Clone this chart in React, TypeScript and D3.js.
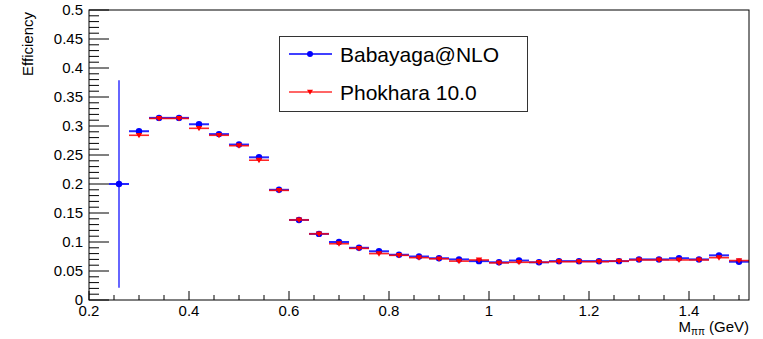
import React from "react";
import * as d3 from "d3";

const binCenters = [0.26, 0.30, 0.34, 0.38, 0.42, 0.46, 0.50, 0.54, 0.58, 0.62, 0.66, 0.70, 0.74, 0.78, 0.82, 0.86,
  0.90, 0.94, 0.98, 1.02, 1.06, 1.10, 1.14, 1.18, 1.22, 1.26, 1.30, 1.34, 1.38, 1.42, 1.46, 1.50];
const binHalfWidth = 0.02;

const babayaga = [0.200, 0.291, 0.314, 0.314, 0.303, 0.286, 0.268, 0.246, 0.190, 0.138, 0.114, 0.100, 0.090, 0.084, 0.078, 0.075,
  0.072, 0.070, 0.067, 0.065, 0.068, 0.065, 0.067, 0.067, 0.067, 0.067, 0.070, 0.070, 0.072, 0.070, 0.077, 0.066];
const babayagaErr = [0.179, 0.002, 0.002, 0.002, 0.002, 0.002, 0.002, 0.002, 0.002, 0.002, 0.002, 0.002, 0.002, 0.002, 0.002, 0.002,
  0.002, 0.002, 0.002, 0.002, 0.002, 0.002, 0.002, 0.002, 0.002, 0.002, 0.002, 0.002, 0.002, 0.002, 0.002, 0.002];

// Phokhara has no entry in the first bin
const phokhara: (number | null)[] = [null, 0.284, 0.313, 0.313, 0.296, 0.284, 0.266, 0.241, 0.189, 0.138, 0.114, 0.097, 0.089, 0.080, 0.077, 0.073,
  0.071, 0.067, 0.069, 0.064, 0.065, 0.065, 0.066, 0.066, 0.066, 0.067, 0.069, 0.069, 0.069, 0.069, 0.073, 0.068];
const phokharaErr = [0, 0.002, 0.002, 0.002, 0.002, 0.002, 0.002, 0.002, 0.002, 0.002, 0.002, 0.002, 0.002, 0.002, 0.002, 0.002,
  0.002, 0.002, 0.002, 0.002, 0.002, 0.002, 0.002, 0.002, 0.002, 0.002, 0.002, 0.002, 0.002, 0.002, 0.002, 0.002];

const xMajorTicks = [0.2, 0.4, 0.6, 0.8, 1.0, 1.2, 1.4];
const xTickLabels = ["0.2", "0.4", "0.6", "0.8", "1", "1.2", "1.4"];
const yMajorTicks = [0, 0.05, 0.1, 0.15, 0.2, 0.25, 0.3, 0.35, 0.4, 0.45, 0.5];
const yTickLabels = ["0", "0.05", "0.1", "0.15", "0.2", "0.25", "0.3", "0.35", "0.4", "0.45", "0.5"];
const seriesNames = ["Babayaga@NLO", "Phokhara 10.0"];

const W = 763, H = 339;
const L = 89, R = 749, T = 10, B = 300;
const FONT = "'Liberation Sans', Arial, Helvetica, sans-serif";
const BLUE = "#0000ff";
const RED = "#ff0000";

export default function App() {
  const x = d3.scaleLinear().domain([0.2, 1.52]).range([L, R]);
  const y = d3.scaleLinear().domain([0, 0.5]).range([B, T]);

  const xMinor = d3.range(0, 27).map((i) => 0.2 + i * 0.05).filter((v) => v <= 1.52 + 1e-9);
  const yMinor = d3.range(0, 51).map((i) => i * 0.01);

  const tri = (cx: number, cy: number, s: number) =>
    `M${cx - s},${cy - s * 0.75} L${cx + s},${cy - s * 0.75} L${cx},${cy + s * 0.95} Z`;

  return (
    <svg width={W} height={H} style={{ position: "absolute", left: 0, top: 0, background: "#fff" }} fontFamily={FONT}>
      <rect x={0} y={0} width={W} height={H} fill="#fff" />

      {/* Y ticks */}
      {yMinor.map((v, i) => (
        <line key={"ym" + i} x1={L} x2={L + (i % 5 === 0 ? 20 : 10)} y1={y(v)} y2={y(v)} stroke="#000" strokeWidth={1} />
      ))}
      {/* X ticks */}
      {xMinor.map((v, i) => (
        <line key={"xm" + i} x1={x(v)} x2={x(v)} y1={B} y2={B - (i % 4 === 0 ? 9 : 5)} stroke="#000" strokeWidth={1} />
      ))}

      {/* labels */}
      {yMajorTicks.map((v, i) => (
        <text key={"yl" + i} x={83} y={y(v)} dy="0.36em" textAnchor="end" fontSize={15} fill="#000">
          {yTickLabels[i]}
        </text>
      ))}
      {xMajorTicks.map((v, i) => (
        <text key={"xl" + i} x={x(v)} y={316} textAnchor="middle" fontSize={15} fill="#000">
          {xTickLabels[i]}
        </text>
      ))}

      <text transform={`translate(33,12) rotate(-90)`} textAnchor="end" fontSize={15} fill="#000">
        Efficiency
      </text>
      <text x={R} y={332} textAnchor="end" fontSize={15} fill="#000">
        M<tspan fontSize={10} dy={3}>ππ</tspan>
        <tspan dy={-3}> (GeV)</tspan>
      </text>

      {/* Babayaga series */}
      <g>
        {binCenters.map((c, i) => {
          const v = babayaga[i];
          return (
            <g key={"b" + i}>
              <line x1={x(c - binHalfWidth)} x2={x(c + binHalfWidth)} y1={y(v)} y2={y(v)} stroke={BLUE} strokeWidth={2} strokeOpacity={0.85} />
              <line x1={x(c)} x2={x(c)} y1={y(v - babayagaErr[i])} y2={y(v + babayagaErr[i])} stroke={BLUE} strokeWidth={1.5} strokeOpacity={0.8} />
              <circle cx={x(c)} cy={y(v)} r={3.2} fill={BLUE} />
            </g>
          );
        })}
      </g>
      {/* Phokhara series */}
      <g>
        {binCenters.map((c, i) => {
          const v = phokhara[i];
          if (v === null) return null;
          return (
            <g key={"p" + i}>
              <line x1={x(c - binHalfWidth)} x2={x(c + binHalfWidth)} y1={y(v)} y2={y(v)} stroke={RED} strokeWidth={1.6} strokeOpacity={0.85} />
              <line x1={x(c)} x2={x(c)} y1={y(v - phokharaErr[i])} y2={y(v + phokharaErr[i])} stroke={RED} strokeWidth={1.2} />
              <path d={tri(x(c), y(v), 3.2)} fill={RED} />
            </g>
          );
        })}
      </g>

      {/* Frame */}
      <rect x={L} y={T} width={R - L} height={B - T} fill="none" stroke="#000" strokeWidth={1} />

      {/* Legend */}
      <rect x={279.5} y={36.5} width={248} height={75} fill="#fff" stroke="#333" strokeWidth={1} />
      <line x1={289} x2={332} y1={54} y2={54} stroke={BLUE} strokeWidth={1.5} />
      <circle cx={310} cy={54} r={3} fill={BLUE} />
      <text x={340} y={54} dy="0.36em" fontSize={21} fill="#000">{seriesNames[0]}</text>
      <line x1={289} x2={332} y1={92} y2={92} stroke={RED} strokeWidth={1.5} strokeOpacity={0.8} />
      <path d={tri(310, 92, 3)} fill={RED} />
      <text x={340} y={92} dy="0.36em" fontSize={21} fill="#000">{seriesNames[1]}</text>
    </svg>
  );
}
